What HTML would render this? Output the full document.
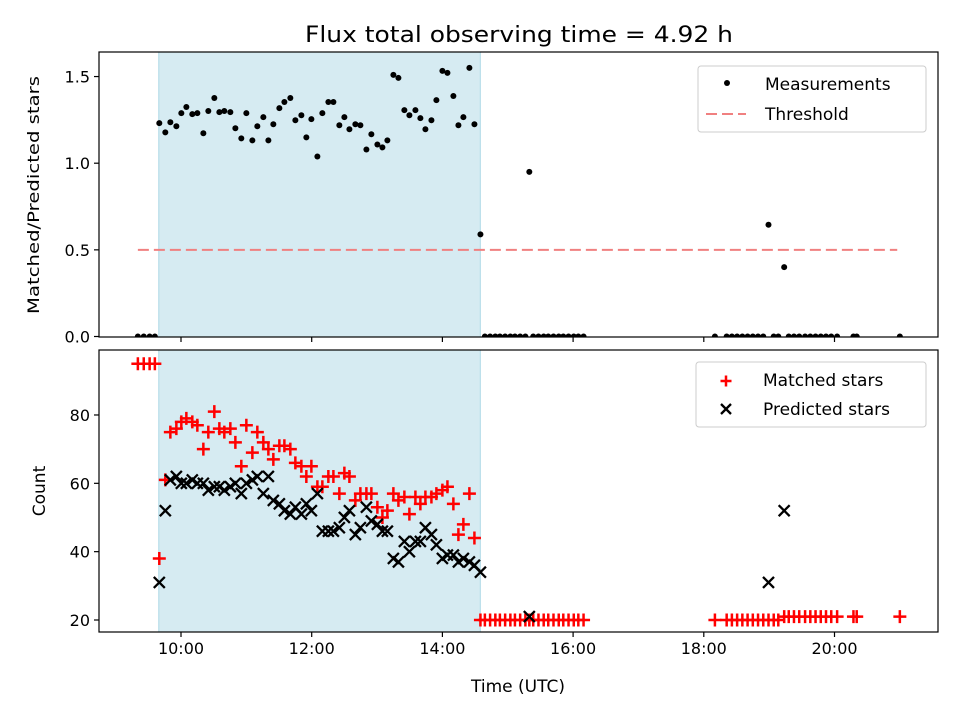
<!DOCTYPE html>
<html><head><meta charset="utf-8"><style>
body{margin:0;background:#fff}
svg{display:block;font-family:"DejaVu Sans","Liberation Sans",sans-serif}
</style></head><body>
<svg id="chart" width="960" height="720" viewBox="0 0 960 720">
<defs>
<clipPath id="ctop"><rect x="99" y="52" width="839" height="285"/></clipPath>
<clipPath id="cbot"><rect x="99" y="350" width="839" height="282"/></clipPath>
</defs>
<text x="519" y="42" font-size="22" text-anchor="middle" textLength="428" lengthAdjust="spacingAndGlyphs">Flux total observing time = 4.92 h</text>
<g id="topPanel"></g>
<g id="botPanel"></g>
</svg>
<script>
const times = [9.34,9.43,9.52,9.60,
9.668,9.760,9.837,9.929,10.005,10.082,10.173,10.250,10.342,10.418,10.510,10.587,10.663,10.755,10.832,10.923,11.000,11.092,11.168,11.260,11.337,11.413,11.505,11.582,11.673,11.750,11.842,11.918,11.995,12.087,12.163,12.255,12.332,12.423,12.500,12.577,12.668,12.745,12.837,12.913,13.005,13.082,13.158,13.250,13.327,13.418,13.495,13.587,13.663,13.740,13.832,13.908,14.000,14.077,14.168,14.245,14.321,14.413,14.490,14.582,
14.65,14.73,14.81,14.88,14.96,15.04,15.11,15.19,15.27,15.33,15.39,15.47,15.55,15.62,15.70,15.78,15.85,15.93,16.01,16.08,16.16,
18.17,18.35,18.43,18.51,18.59,18.67,18.75,18.83,18.91,18.99,19.07,19.14,19.23,
19.30,19.38,19.46,19.55,19.63,19.71,19.79,19.87,19.95,20.04,20.29,20.34,21.0];
const ratio = [0,0,0,0,
1.231,1.178,1.236,1.213,1.289,1.324,1.283,1.289,1.173,1.301,1.376,1.295,1.301,1.295,1.202,1.143,1.289,1.132,1.213,1.266,1.132,1.225,1.318,1.353,1.376,1.248,1.277,1.149,1.254,1.039,1.289,1.353,1.353,1.219,1.266,1.196,1.225,1.219,1.079,1.167,1.108,1.091,1.132,1.510,1.492,1.306,1.277,1.306,1.260,1.196,1.248,1.364,1.533,1.521,1.388,1.219,1.266,1.550,1.225,0.589,
0,0,0,0,0,0,0,0,0,0.95,0,0,0,0,0,0,0,0,0,0,0,
0,0,0,0,0,0,0,0,0,0.645,0,0,0.40,
0,0,0,0,0,0,0,0,0,0,0,0,0];
const matched = [95,95,95,95,
38,61,75,76,78,79,78,77,70,75,81,76,75,76,72,65,77,69,75,72,70,67,71,71,70,66,65,62,65,59,59,62,62,57,63,62,55,57,57,57,53,50,52,57,55,56,51,56,54,56,56,57,58,59,54,45,48,57,44,20,
20,20,20,20,20,20,20,20,20,20,20,20,20,20,20,20,20,20,20,20,20,
20,20,20,20,20,20,20,20,20,20,20,20,21,
21,21,21,21,21,21,21,21,21,21,21,21,21];
const predicted = [null,null,null,null,
31,52,61,62,60,60,61,60,60,58,59,59,58,59,60,57,60,61,62,57,62,55,54,52,51,53,51,54,52,57,46,46,46,47,50,52,45,47,53,49,48,46,46,38,37,43,40,43,43,47,45,42,38,39,39,37,38,37,36,34,
null,null,null,null,null,null,null,null,null,21,null,null,null,null,null,null,null,null,null,null,null,
null,null,null,null,null,null,null,null,null,31,null,null,52,
null,null,null,null,null,null,null,null,null,null,null,null,null];
const threshold = 0.5;
const shadeStart = 9.66, shadeEnd = 14.58;
const xTicks = [10,12,14,16,18,20];
const xTickLabels = ["10:00","12:00","14:00","16:00","18:00","20:00"];
const topTicks = [0,0.5,1.0,1.5];
const topTickLabels = ["0.0","0.5","1.0","1.5"];
const botTicks = [20,40,60,80];

const NS="http://www.w3.org/2000/svg";
const X = t => 181 + (t-10)*65.35;
const YT = v => 336.5 - v*173.3;
const YB = c => 620 - (c-20)*3.417;
function mk(parent, tag, attrs, text){
  const e=document.createElementNS(NS,tag);
  for(const k in attrs) e.setAttribute(k,attrs[k]);
  if(text!==undefined) e.textContent=text;
  parent.appendChild(e); return e;
}
const topG=document.getElementById('topPanel'), botG=document.getElementById('botPanel');

function panel(g, y0, y1, clip){
  const sh=mk(g,'rect',{x:X(shadeStart),y:y0,width:X(shadeEnd)-X(shadeStart),height:y1-y0,fill:'#add8e6','fill-opacity':0.5,stroke:'#add8e6','stroke-width':1});
  
  
  const marks=mk(g,'g',{'clip-path':'url(#'+clip+')'});
  return marks;
}
function frame(g,y0,y1,showLabels){
  const f=mk(g,'rect',{x:99,y:y0,width:839,height:y1-y0,fill:'none',stroke:'#000','stroke-width':1.2});
  
  
  xTicks.forEach((t,i)=>{
    mk(g,'line',{x1:X(t),x2:X(t),y1:y1,y2:y1+5,stroke:'#000','stroke-width':1.2});
    if(showLabels){
      const tl=mk(g,'text',{x:X(t),y:y1+22,'font-size':16,'text-anchor':'middle'},xTickLabels[i]);
      
      
    }
  });
}

// TOP
const tm=panel(topG,52,337,'ctop');
const th=mk(tm,'line',{x1:X(times[0]),x2:X(20.96),y1:YT(threshold),y2:YT(threshold),stroke:'#f08080','stroke-width':2,'stroke-dasharray':'11,5'});


times.forEach((t,i)=>{
  const c=mk(tm,'circle',{cx:X(t),cy:YT(ratio[i]),r:3,fill:'#000'});
  
  
});
frame(topG,52,337,false);
topTicks.forEach((v,i)=>{
  mk(topG,'line',{x1:94,x2:99,y1:YT(v),y2:YT(v),stroke:'#000','stroke-width':1.2});
  const tl=mk(topG,'text',{x:90,y:YT(v)+6,'font-size':16,'text-anchor':'end'},topTickLabels[i]);
  
  
});
const yl1=mk(topG,'text',{x:0,y:0,'font-size':16,'text-anchor':'middle',transform:'translate(39,195) rotate(-90)',textLength:238,lengthAdjust:'spacingAndGlyphs'},'Matched/Predicted stars');



// BOTTOM
const bm=panel(botG,350,632,'cbot');
function plus(g,x,y,col,s){mk(g,'path',{d:`M${x-s},${y}H${x+s}M${x},${y-s}V${y+s}`,stroke:col,'stroke-width':2.5,fill:'none'});}
function cross(g,x,y,col,s){mk(g,'path',{d:`M${x-s},${y-s}L${x+s},${y+s}M${x-s},${y+s}L${x+s},${y-s}`,stroke:col,'stroke-width':2.3,fill:'none'});}
times.forEach((t,i)=>{
  const g=mk(bm,'g',{});
  
  
  plus(g,X(t),YB(matched[i]),'#ff0000',6.5);
});
times.forEach((t,i)=>{
  if(predicted[i]===null) return;
  const g=mk(bm,'g',{});
  
  
  cross(g,X(t),YB(predicted[i]),'#000',5.5);
});
frame(botG,350,632,true);
botTicks.forEach(v=>{
  mk(botG,'line',{x1:94,x2:99,y1:YB(v),y2:YB(v),stroke:'#000','stroke-width':1.2});
  const tl=mk(botG,'text',{x:90,y:YB(v)+6,'font-size':16,'text-anchor':'end'},String(v));
  
  
});
const yl2=mk(botG,'text',{x:0,y:0,'font-size':17,'text-anchor':'middle',transform:'translate(45,491) rotate(-90)'},'Count');


const xl=mk(botG,'text',{x:518,y:692,'font-size':17,'text-anchor':'middle'},'Time (UTC)');



// LEGENDS
const lg1=mk(topG,'g',{});


mk(lg1,'rect',{x:698,y:66,width:228,height:66,rx:3,fill:'#fff','fill-opacity':0.8,stroke:'#ccc'});
mk(lg1,'circle',{cx:727,cy:83,r:3,fill:'#000'});
const le1=mk(lg1,'text',{x:765,y:90,'font-size':17},'Measurements');


mk(lg1,'line',{x1:706,x2:746,y1:114,y2:114,stroke:'#f08080','stroke-width':2,'stroke-dasharray':'11,5'});
const le2=mk(lg1,'text',{x:765,y:120,'font-size':17},'Threshold');



const lg2=mk(botG,'g',{});


mk(lg2,'rect',{x:696,y:362,width:230,height:65,rx:3,fill:'#fff','fill-opacity':0.8,stroke:'#ccc'});
plus(lg2,726,381,'#ff0000',5.5);
const le3=mk(lg2,'text',{x:763,y:386,'font-size':17},'Matched stars');


cross(lg2,726,409,'#000',5);
const le4=mk(lg2,'text',{x:763,y:415,'font-size':17},'Predicted stars');


</script>
</body></html>
